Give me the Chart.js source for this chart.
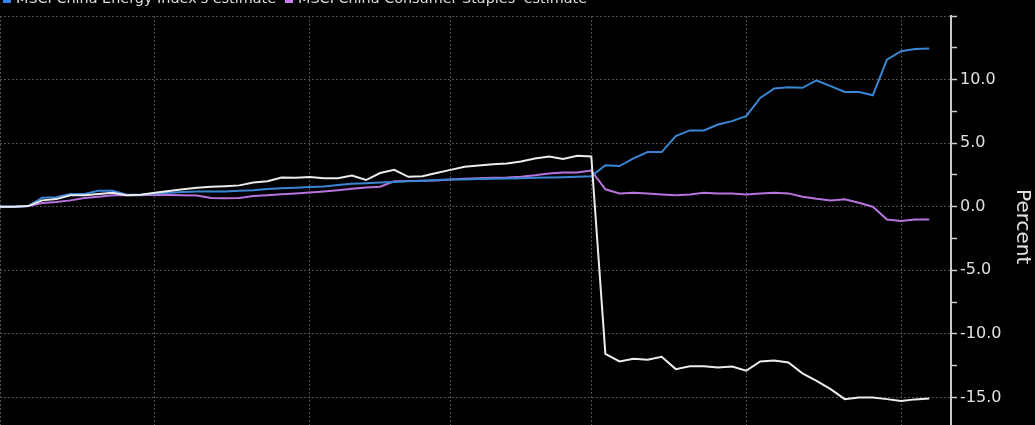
<!DOCTYPE html>
<html>
<head>
<meta charset="utf-8">
<script src="https://cdn.jsdelivr.net/npm/chart.js@4.4.0/dist/chart.umd.min.js"></script>
<style>
  html, body { margin: 0; padding: 0; background: #000; overflow: hidden; }
  #wrap { position: relative; width: 1035px; height: 425px; overflow: hidden; background: #000; }
  #legend { position: absolute; top: -10px; left: 3px; display: flex; gap: 9px; white-space: nowrap;
            font: 14.4px "DejaVu Sans", sans-serif; color: #dcdcdc; line-height: 16px; z-index: 2; }
  .item { display: flex; align-items: center; }
  .box { width: 8px; height: 8px; margin-right: 5px; margin-top: 2px; }
  canvas { position: absolute; left: 0; top: 0; }
</style>
</head>
<body>
<div id="wrap">
  <div id="legend"></div>
  <canvas id="chart" width="1035" height="450"></canvas>
</div>
<script>
// weekly points, index 0..66
const GRID_X = [0, 11, 22, 32, 42, 53, 64];

const overallEst = [
  0, 0, 0.05, 0.5, 0.6, 0.9, 0.9, 1.0, 1.1, 0.9,
  0.95, 1.1, 1.23, 1.38, 1.5, 1.57, 1.62, 1.68, 1.9, 2.0,
  2.3, 2.28, 2.33, 2.25, 2.25, 2.45, 2.1, 2.65, 2.9, 2.35,
  2.4, 2.65, 2.9, 3.15, 3.25, 3.35, 3.4, 3.55, 3.8, 3.95,
  3.75, 4.0, 3.95, -11.57, -12.17, -11.96, -12.04, -11.8, -12.77, -12.54,
  -12.54, -12.64, -12.57, -12.9, -12.17, -12.1, -12.25, -13.1, -13.7, -14.35,
  -15.13, -15.0, -15.0, -15.13, -15.28, -15.15, -15.08,
];

const energyEst = [
  0, 0, 0.05, 0.7, 0.75, 1.0, 1.0, 1.25, 1.25, 0.95,
  0.95, 1.05, 1.1, 1.15, 1.2, 1.2, 1.2, 1.25, 1.3, 1.4,
  1.45, 1.5, 1.55, 1.6, 1.7, 1.8, 1.85, 1.9, 1.95, 2.0,
  2.05, 2.1, 2.15, 2.15, 2.18, 2.2, 2.22, 2.25, 2.28, 2.3,
  2.32, 2.35, 2.4, 3.27, 3.2, 3.8, 4.3, 4.3, 5.55, 6.0,
  6.0, 6.47, 6.73, 7.12, 8.56, 9.3, 9.4, 9.35, 9.93, 9.48,
  9.03, 9.03, 8.77, 11.57, 12.23, 12.4, 12.44,
];

const staplesEst = [
  0, 0, 0.05, 0.3, 0.37, 0.5, 0.68, 0.79, 0.9, 0.9,
  0.9, 0.95, 0.92, 0.9, 0.88, 0.68, 0.66, 0.68, 0.84, 0.9,
  0.98, 1.05, 1.12, 1.2, 1.3, 1.42, 1.52, 1.57, 2.0, 2.02,
  2.04, 2.07, 2.15, 2.2, 2.24, 2.27, 2.3, 2.36, 2.47, 2.62,
  2.7, 2.7, 2.85, 1.37, 1.05, 1.1, 1.05, 0.97, 0.9, 0.97,
  1.1, 1.05, 1.05, 0.97, 1.05, 1.1, 1.05, 0.79, 0.63, 0.5,
  0.58, 0.32, 0.0, -1.0, -1.12, -1.0, -1.0,
];

const Y_TICKS = [-17.5, -15, -12.5, -10, -7.5, -5, -2.5, 0, 2.5, 5, 7.5, 10, 12.5, 15];

const SERIES = [
  { label: 'MSCI China Index\'s estimate',            data: overallEst, color: '#ececec', box: '#ececec', legend: false },
  { label: 'MSCI China Energy Index\'s estimate',     data: energyEst,  color: '#3a86d4', box: '#2f86f0', legend: true },
  { label: 'MSCI China Consumer Staples\' estimate',  data: staplesEst, color: '#b774dc', box: '#c67ef2', legend: true },
];

document.getElementById('legend').innerHTML = SERIES.filter((s) => s.legend).map((s) => `
  <div class="item"><div class="box" style="background:${s.box}"></div><span>${s.label}</span></div>
`).join('');

const GRID = '#505050';
const AXIS = '#c8c8c8';
const TEXT = '#e0e0e0';

new Chart(document.getElementById('chart').getContext('2d'), {
  type: 'line',
  data: {
    datasets: SERIES.map((s) => ({
      label: s.label,
      data: s.data.map((v, i) => ({ x: i, y: v })),
      borderColor: s.color,
      backgroundColor: s.box,
      borderWidth: 2,
      pointRadius: 0,
      tension: 0,
    })),
  },
  options: {
    responsive: false,
    animation: false,
    layout: { padding: { top: 16, left: 0, right: 0, bottom: 0 } },
    plugins: { legend: { display: false }, tooltip: { enabled: false } },
    scales: {
      x: {
        type: 'linear', min: 0, max: 67.55,
        afterBuildTicks: (s) => { s.ticks = GRID_X.map((v) => ({ value: v })); },
        ticks: { display: false },
        border: { display: false, dash: [2, 2] },
        grid: { color: GRID, lineWidth: 1, drawTicks: false },
      },
      y: {
        position: 'right', min: -18.14, max: 15,
        afterBuildTicks: (s) => { s.ticks = Y_TICKS.map((v) => ({ value: v })); },
        afterFit: (s) => { s.width = 84; },
        border: { color: AXIS, width: 2, dash: [2, 2] },
        grid: {
          color: (c) => (c.tick && c.tick.value % 5 === 0 ? GRID : 'rgba(0,0,0,0)'),
          tickColor: AXIS, tickLength: 6, tickWidth: 1.5,
        },
        ticks: {
          color: TEXT, padding: 3,
          font: { family: 'DejaVu Sans', size: 16 },
          callback: (v) => (v % 5 === 0 && v < 15 ? v.toFixed(1) : ''),
        },
        title: {
          display: true, text: 'Percent', color: TEXT,
          font: { family: 'DejaVu Sans', size: 20 },
          padding: { top: 1, bottom: 0 },
        },
      },
    },
  },
});
</script>
</body>
</html>
